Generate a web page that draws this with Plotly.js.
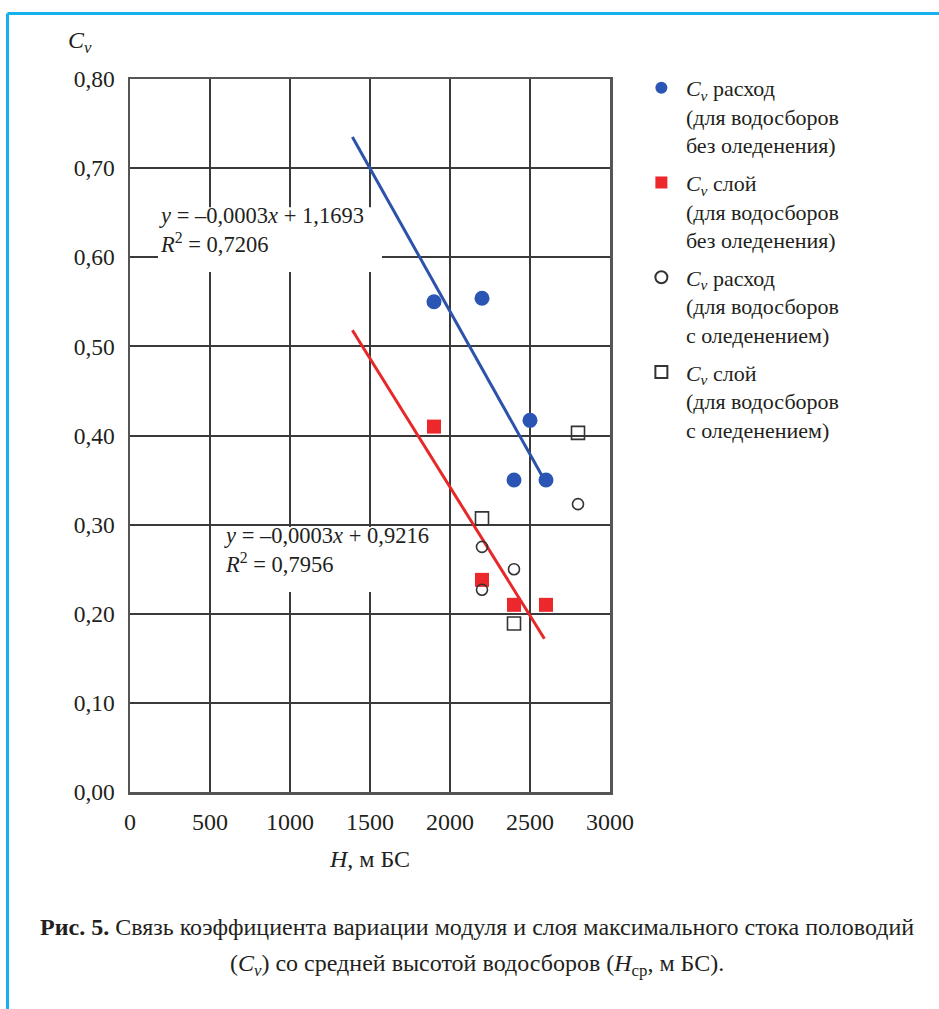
<!DOCTYPE html>
<html>
<head>
<meta charset="utf-8">
<script src="https://cdn.plot.ly/plotly-3.0.1.min.js"></script>
<style>html,body{margin:0;padding:0;background:#fff;}#chart{width:939px;height:1009px;}</style>
</head>
<body>
<div id="chart"></div>
<script>
// ---- data ----
const xTickVals = [0, 500, 1000, 1500, 2000, 2500, 3000];
const xTickText = ['0', '500', '1000', '1500', '2000', '2500', '3000'];
const yTickVals = [0, 0.1, 0.2, 0.3, 0.4, 0.5, 0.6, 0.7, 0.8];
const yTickText = ['0,00', '0,10', '0,20', '0,30', '0,40', '0,50', '0,60', '0,70', '0,80'];

const flowNoIceX = [1900, 2200, 2400, 2500, 2600];
const flowNoIceY = [0.550, 0.554, 0.350, 0.417, 0.350];
const layerNoIceX = [1900, 2200, 2400, 2600];
const layerNoIceY = [0.410, 0.238, 0.210, 0.210];
const flowIceX = [2200, 2200, 2400, 2800];
const flowIceY = [0.275, 0.227, 0.250, 0.323];
const layerIceX = [2200, 2400, 2800];
const layerIceY = [0.307, 0.189, 0.403];

const flowTrendX = [1390, 2590];
const flowTrendY = [0.735, 0.350];
const layerTrendX = [1390, 2590];
const layerTrendY = [0.518, 0.172];

const legendNames = [
  '<i>C</i><sub><i>v</i></sub> расход<br>(для водосборов<br>без оледенения)',
  '<i>C</i><sub><i>v</i></sub> слой<br>(для водосборов<br>без оледенения)',
  '<i>C</i><sub><i>v</i></sub> расход<br>(для водосборов<br>с оледенением)',
  '<i>C</i><sub><i>v</i></sub> слой<br>(для водосборов<br>с оледенением)'
];
const eqFlow = ['<i>y</i> = –0,0003<i>x</i> + 1,1693', '<i>R</i><sup>2</sup> = 0,7206'];
const eqLayer = ['<i>y</i> = –0,0003<i>x</i> + 0,9216', '<i>R</i><sup>2</sup> = 0,7956'];
const captionLines = [
  '<b>Рис. 5.</b> Связь коэффициента вариации модуля и слоя максимального стока половодий',
  '(<i>C</i><sub><i>v</i></sub>) со средней высотой водосборов (<i>H</i><sub>ср</sub>, м БС).'
];

// ---- styles ----
const FONT = '"Liberation Serif", "Times New Roman", serif';
const BLUE = '#2b55b5';
const RED = '#ec282c';
const GREY = '#333333';
const TXT = '#231f20';

const traces = [
  {x: flowTrendX, y: flowTrendY, mode: 'lines', line: {color: '#2c52aa', width: 3}, showlegend: false, hoverinfo: 'skip'},
  {x: layerTrendX, y: layerTrendY, mode: 'lines', line: {color: '#e82828', width: 3}, showlegend: false, hoverinfo: 'skip'},
  {x: flowNoIceX, y: flowNoIceY, mode: 'markers', name: legendNames[0], legendgroup: 'a',
   marker: {symbol: 'circle', size: 15, color: BLUE}},
  {x: layerNoIceX, y: layerNoIceY, mode: 'markers', name: legendNames[1], legendgroup: 'b',
   marker: {symbol: 'square', size: 14, color: RED}},
  {x: flowIceX, y: flowIceY, mode: 'markers', name: legendNames[2], legendgroup: 'c',
   marker: {symbol: 'circle-open', size: 11, color: GREY, line: {width: 1.6, color: GREY}}},
  {x: layerIceX, y: layerIceY, mode: 'markers', name: legendNames[3], legendgroup: 'd',
   marker: {symbol: 'square-open', size: 13, color: GREY, line: {width: 1.6, color: GREY}}}
];

const axisCommon = {
  showgrid: true, gridcolor: '#3a3a3a', gridwidth: 2,
  zeroline: false, showline: true, mirror: true, linecolor: '#555', linewidth: 2.5,
  ticks: '', fixedrange: true
};

const annotations = [
  {xref: 'paper', yref: 'paper', x: -0.133, y: 1.052, xanchor: 'left', yanchor: 'middle', showarrow: false,
   text: '<i>C</i><sub><i>v</i></sub>', font: {family: FONT, size: 24, color: TXT}},
  {xref: 'x', yref: 'y', x: 169, y: 0.631, xanchor: 'left', yanchor: 'middle', align: 'left', showarrow: false,
   text: eqFlow.join('<br>'), font: {family: FONT, size: 22.5, color: TXT}},
  {xref: 'x', yref: 'y', x: 575, y: 0.272, xanchor: 'left', yanchor: 'middle', align: 'left', showarrow: false,
   text: eqLayer.join('<br>'), font: {family: FONT, size: 22.5, color: TXT}},
  {xref: 'paper', yref: 'paper', x: 0.723, y: -0.189, xanchor: 'center', yanchor: 'middle', showarrow: false,
   text: captionLines[0], font: {family: FONT, size: 24, color: TXT}},
  {xref: 'paper', yref: 'paper', x: 0.723, y: -0.242, xanchor: 'center', yanchor: 'middle', showarrow: false,
   text: captionLines[1], font: {family: FONT, size: 24, color: TXT}}
];

const shapes = [
  {type: 'rect', xref: 'x', yref: 'y', x0: 175, x1: 1575, y0: 0.5835, y1: 0.656, fillcolor: '#fff', line: {width: 0}, layer: 'above'},
  {type: 'rect', xref: 'x', yref: 'y', x0: 531, x1: 1969, y0: 0.2244, y1: 0.2973, fillcolor: '#fff', line: {width: 0}, layer: 'above'},
  {type: 'line', xref: 'paper', yref: 'paper', x0: -0.2552, x1: 1.75, y0: 1.0919, y1: 1.0919, line: {color: '#16b1ec', width: 3}},
  {type: 'line', xref: 'paper', yref: 'paper', x0: -0.2552, x1: -0.2552, y0: 1.0919, y1: -0.35, line: {color: '#16b1ec', width: 3}}
];

const layout = {
  width: 939, height: 1009,
  margin: {l: 130, r: 329, t: 79, b: 217},
  paper_bgcolor: '#fff', plot_bgcolor: '#fff',
  font: {family: FONT, color: TXT},
  xaxis: Object.assign({}, axisCommon, {
    range: [0, 3000], tickmode: 'array', tickvals: xTickVals, ticktext: xTickText, ticklabelstandoff: 7,
    tickfont: {family: FONT, size: 24, color: TXT},
    title: {text: '<i>H</i>, м БС', font: {family: FONT, size: 24, color: TXT}, standoff: 16}
  }),
  yaxis: Object.assign({}, axisCommon, {
    range: [0, 0.8], tickmode: 'array', tickvals: yTickVals, ticktext: yTickText, ticklabelstandoff: 8,
    tickfont: {family: FONT, size: 23.5, color: TXT}
  }),
  legend: {x: 1.056, y: 1.017, xanchor: 'left', yanchor: 'top', valign: 'top', itemsizing: 'constant',
    itemwidth: 39, tracegroupgap: 6, bgcolor: 'rgba(0,0,0,0)', font: {family: FONT, size: 22, color: TXT}},
  showlegend: true,
  annotations: annotations,
  shapes: shapes
};

Plotly.newPlot('chart', traces, layout, {displayModeBar: false, staticPlot: true});
</script>
</body>
</html>
